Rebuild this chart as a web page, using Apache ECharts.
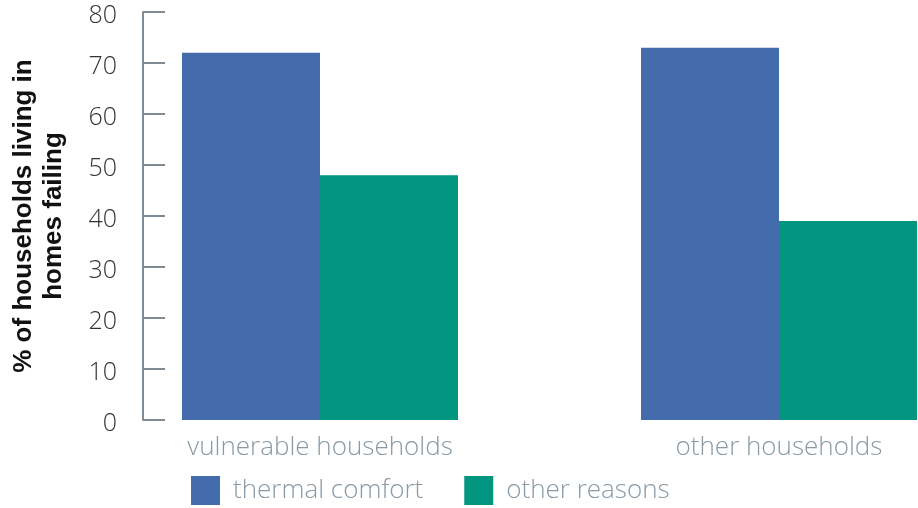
<!DOCTYPE html>
<html>
<head>
<meta charset="utf-8">
<script src="https://cdn.jsdelivr.net/npm/echarts@6/dist/echarts.min.js"></script>
<style>
  html, body { margin: 0; padding: 0; background: #ffffff; }
  #chart { width: 918px; height: 508px; }
</style>
</head>
<body>
<div id="chart"></div>
<script>
// Household groups on the x axis
const categories = ['vulnerable households', 'other households'];
// Share of households (%) living in homes failing, by reason
const thermalComfort = [72, 73];
const otherReasons = [48, 39];
// Value axis ticks
const yTicks = [0, 10, 20, 30, 40, 50, 60, 70, 80];

const axisGrey = '#7e8b95';
const labelGrey = '#8a9aa4';
const labelFont = '"Open Sans", Roboto, sans-serif';

const chart = echarts.init(document.getElementById('chart'), null, { renderer: 'canvas' });

chart.setOption({
  animation: false,
  backgroundColor: '#ffffff',
  grid: { left: 90.5, top: 12, width: 918, height: 408, containLabel: false, outerBoundsMode: 'none' },
  legend: {
    left: 191,
    top: 476,
    padding: 0,
    itemWidth: 29,
    itemHeight: 29,
    itemGap: 41,
    icon: 'rect',
    textStyle: { color: labelGrey, fontSize: 26, fontWeight: 300, fontFamily: labelFont, padding: [4, 0, 0, 8] },
    data: ['thermal comfort', 'other reasons']
  },
  xAxis: {
    type: 'category',
    data: categories,
    axisLine: { show: false },
    axisTick: { show: false },
    axisLabel: { color: labelGrey, fontSize: 26, fontWeight: 300, fontFamily: labelFont, margin: 15 }
  },
  yAxis: {
    type: 'value',
    min: yTicks[0],
    max: yTicks[yTicks.length - 1],
    interval: 10,
    offset: -52.5,
    name: '% of households living in\nhomes failing',
    nameLocation: 'middle',
    nameGap: 74,
    nameRotate: 90,
    nameTextStyle: { color: '#111111', fontSize: 26, fontWeight: 'bold', fontFamily: '"Liberation Sans", Arial, sans-serif', lineHeight: 30 },
    splitLine: { show: false },
    axisLine: { show: true, lineStyle: { color: axisGrey, width: 2 } },
    axisTick: { show: true, inside: true, length: 22, lineStyle: { color: axisGrey, width: 2 } },
    axisLabel: {
      margin: 26,
      formatter: '{v|{value}}',
      rich: { v: { color: '#333333', fontSize: 25, fontFamily: labelFont, fontWeight: 300, padding: [8, 0, 0, 0] } }
    }
  },
  series: [
    {
      name: 'thermal comfort',
      type: 'bar',
      data: thermalComfort,
      barWidth: 138,
      barGap: '0%',
      itemStyle: { color: '#446bab' }
    },
    {
      name: 'other reasons',
      type: 'bar',
      data: otherReasons,
      barWidth: 138,
      barGap: '0%',
      itemStyle: { color: '#029580' }
    }
  ]
});
</script>
</body>
</html>
